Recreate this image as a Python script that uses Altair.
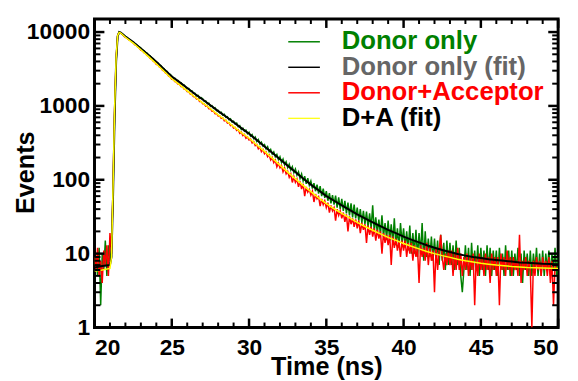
import altair as alt
import pandas as pd

# ---------------- data ----------------
t_start = 20.0
t_step = 0.1

green_counts = [
    7, 9, 5, 12, 2, 10, 6, 15, 5, 13,
    8, 12, 65, 720, 4060, 8850, 10080, 9760, 9420, 9080,
    8650, 8470, 8090, 7900, 7540, 7350, 6990, 6820, 6480, 6300,
    6060, 5730, 5600, 5290, 5170, 4860, 4750, 4480, 4370, 4100,
    3910, 3830, 3590, 3510, 3270, 3190, 2980, 2930, 2720, 2670,
    2540, 2390, 2370, 2230, 2210, 2070, 2060, 1930, 1920, 1790,
    1720, 1720, 1600, 1600, 1480, 1480, 1370, 1390, 1280, 1300,
    1250, 1150, 1170, 1070, 1090, 990, 1010, 930, 945, 860,
    870, 805, 820, 750, 770, 700, 715, 650, 670, 605,
    620, 570, 585, 525, 540, 480, 500, 455, 470, 420,
    440, 390, 410, 360, 380, 330, 350, 305, 322, 285,
    300, 262, 280, 240, 258, 222, 238, 205, 220, 188,
    205, 172, 190, 160, 175, 146, 162, 135, 150, 125,
    140, 115, 128, 104, 120, 96, 112, 88, 105, 84,
    96, 76, 90, 70, 86, 65, 82, 60, 76, 57,
    70, 52, 66, 48, 62, 46, 61, 42, 58, 40,
    55, 38, 52, 35, 49, 33, 48, 31, 46, 30,
    42, 28, 40, 26, 38, 25, 37, 23, 35, 22,
    45, 20, 31, 19, 29, 18, 33, 17, 26, 16,
    28, 15, 25, 14, 30, 13, 22, 12, 26, 14,
    22, 12, 20, 11, 24, 10, 19, 10, 21, 9,
    19, 10, 26, 8, 20, 9, 16, 9, 17, 8,
    16, 8, 15, 7, 18, 8, 14, 6, 15, 7,
    14, 7, 13, 6, 15, 7, 12, 5, 3, 6,
    13, 6, 12, 5, 14, 6, 11, 6, 13, 5,
    12, 6, 11, 5, 13, 6, 12, 5, 11, 6,
    11, 5, 12, 6, 10, 5, 13, 6, 11, 5,
    11, 5, 10, 6, 12, 5, 10, 4, 11, 6,
    10, 5, 11, 5, 10, 6, 12, 5, 10, 5,
    11, 5, 10, 6, 11, 5, 10, 6, 12, 5,
    9,
]

red_counts = [
    9, 6, 12, 5, 8, 4, 11, 7, 13, 5,
    19, 10, 85, 880, 4450, 9050, 9850, 9650, 9320, 8870,
    8440, 8270, 7880, 7700, 7330, 7140, 6770, 6600, 6240, 6050,
    5690, 5560, 5250, 5120, 4810, 4680, 4410, 4300, 4040, 3930,
    3660, 3590, 3360, 3280, 3050, 2970, 2770, 2720, 2530, 2470,
    2290, 2270, 2130, 2110, 1970, 1960, 1830, 1820, 1690, 1680,
    1560, 1555, 1450, 1440, 1340, 1330, 1240, 1245, 1150, 1150,
    1070, 1070, 990, 995, 915, 920, 850, 855, 785, 790,
    730, 735, 680, 690, 630, 640, 585, 595, 540, 550,
    500, 510, 465, 475, 425, 440, 395, 410, 365, 380,
    345, 355, 315, 330, 290, 300, 262, 278, 240, 256,
    225, 238, 205, 218, 185, 200, 170, 184, 150, 168,
    145, 156, 128, 144, 120, 130, 108, 120, 92, 110,
    92, 102, 80, 95, 75, 88, 60, 80, 68, 74,
    62, 70, 50, 64, 55, 59, 44, 55, 46, 52,
    42, 49, 36, 45, 38, 42, 28, 40, 33, 38,
    30, 36, 27, 34, 20, 32, 25, 30, 23, 29,
    22, 28, 19, 26, 21, 25, 14, 24, 18, 23,
    17, 22, 15, 21, 16, 20, 10, 19, 14, 18,
    13, 18, 7, 17, 12, 16, 11, 15, 9, 15,
    11, 15, 9, 14, 10, 14, 8, 13, 9, 12,
    4, 13, 9, 12, 8, 14, 7, 12, 8, 11,
    3, 12, 6, 11, 18, 9, 6, 10, 7, 11,
    7, 11, 5, 10, 6, 12, 6, 10, 5, 9,
    6, 10, 5, 9, 6, 10, 2, 9, 5, 10,
    6, 9, 5, 10, 6, 9, 4, 10, 6, 9,
    5, 9, 2, 10, 6, 9, 5, 11, 6, 9,
    5, 9, 6, 8, 5, 18, 4, 8, 6, 9,
    5, 8, 6, 1, 8, 5, 9, 6, 8, 5,
    9, 6, 8, 5, 9, 4, 8, 2, 7, 6,
    6,
]

fit_times = [20.0, 20.5, 21.0, 21.1, 21.2, 21.3, 21.4, 21.5, 21.6, 21.7,
             22.0, 22.5, 23.0, 23.5, 24.0, 24.5, 25.0, 25.5, 26.0, 26.5,
             27.0, 27.5, 28.0, 28.5, 29.0, 29.5, 30.0, 30.5, 31.0, 31.5,
             32.0, 32.5, 33.0, 33.5, 34.0, 34.5, 35.0, 35.5, 36.0, 36.5,
             37.0, 37.5, 38.0, 38.5, 39.0, 39.5, 40.0, 40.5, 41.0, 41.5,
             42.0, 42.5, 43.0, 43.5, 44.0, 44.5, 45.0, 45.5, 46.0, 46.5,
             47.0, 47.5, 48.0, 48.5, 49.0, 49.5, 50.0]

donor_fit = [6.5, 6.8, 7.0, 9, 60, 700, 4000, 8800, 10000, 9800,
             8700, 7300, 6000, 4900, 3950, 3150, 2500, 2100, 1750, 1450,
             1220, 1020, 850, 720, 600, 500, 420, 345, 283, 232,
             190, 155, 127, 104, 86, 72, 60, 52, 45, 39,
             34, 30, 26.5, 23.5, 21, 19, 17, 15.5, 14.2, 13,
             12, 11.2, 10.5, 9.9, 9.4, 9.0, 8.7, 8.4, 8.2, 8.0,
             7.8, 7.6, 7.5, 7.4, 7.3, 7.25, 7.2]

da_fit = [5.8, 6.0, 6.3, 9, 80, 900, 4500, 9000, 9900, 9700,
          8500, 7100, 5750, 4650, 3720, 2950, 2330, 1940, 1600, 1320,
          1100, 915, 755, 635, 525, 435, 365, 296, 242, 196,
          158, 127, 103, 84, 69, 57, 47.5, 40.5, 35, 30.5,
          26.5, 23.3, 20.7, 18.5, 16.6, 15.1, 13.7, 12.6, 11.6, 10.7,
          10.0, 9.4, 8.9, 8.4, 8.0, 7.7, 7.4, 7.2, 7.0, 6.85,
          6.7, 6.6, 6.5, 6.45, 6.4, 6.35, 6.3]

x_major = [20, 25, 30, 35, 40, 45, 50]
x_minor = [v for v in range(21, 50) if v % 5 != 0]
y_major = [1, 10, 100, 1000, 10000]
y_minor = [m * d for d in (1, 10, 100, 1000) for m in range(2, 10)]

legend_labels = ["Donor only", "Donor only (fit)", "Donor+Acceptor", "D+A (fit)"]
legend_line_colors = ["#008000", "#000000", "#ff0000", "#ffff00"]
legend_text_colors = ["#008000", "#666666", "#ff0000", "#000000"]
legend_line_widths = [1.5, 1.5, 1.5, 1.2]

# ---------------- chart ----------------
FONT = "Liberation Sans"
W, H = 469, 312

times = [round(t_start + t_step * i, 1) for i in range(len(green_counts))]
green_df = pd.DataFrame({"t": times, "v": green_counts})
red_df = pd.DataFrame({"t": times, "v": red_counts})
dfit_df = pd.DataFrame({"t": fit_times, "v": donor_fit})
afit_df = pd.DataFrame({"t": fit_times, "v": da_fit})

xs = alt.Scale(domain=[20, 50], nice=False, zero=False)
ys = alt.Scale(type="log", domain=[1, 15000], nice=False)

x_axis = alt.Axis(values=x_major, ticks=False, tickSize=0, domain=False, grid=False,
                  labelFont=FONT, labelFontSize=23, labelFontWeight="bold",
                  labelColor="black", labelPadding=9,
                  title="Time (ns)", titleFont=FONT, titleFontSize=25.5,
                  titleFontWeight="bold", titleColor="black",
                  titleX=W / 2, titleY=47.5, titleBaseline="alphabetic")
y_axis = alt.Axis(values=y_major, format="d", ticks=False, tickSize=0, domain=False,
                  grid=False, labelFont=FONT, labelFontSize=23,
                  labelFontWeight="bold", labelColor="black", labelPadding=5,
                  title="Events", titleFont=FONT, titleFontSize=25.5,
                  titleFontWeight="bold", titleColor="black", titleAngle=270,
                  titleX=-62, titleY=155, titleAlign="center",
                  titleBaseline="alphabetic")


def series(df, color, sw):
    return alt.Chart(df).mark_line(color=color, strokeWidth=sw, clip=True).encode(
        x=alt.X("t:Q", scale=xs, axis=x_axis),
        y=alt.Y("v:Q", scale=ys, axis=y_axis),
    )


green = series(green_df, "#008000", 1.5)
red = series(red_df, "#ff0000", 1.5)
dfit = series(dfit_df, "#000000", 2)
afit = series(afit_df, "#ffff00", 1.5)


def xticks(vals, y0, y1, sw):
    return alt.Chart(pd.DataFrame({"t": vals})).mark_rule(color="black", strokeWidth=sw).encode(
        x=alt.X("t:Q", scale=xs, axis=x_axis), y=alt.value(y0), y2=alt.value(y1))


def yticks(vals, x0, x1, sw):
    return alt.Chart(pd.DataFrame({"v": vals})).mark_rule(color="black", strokeWidth=sw).encode(
        y=alt.Y("v:Q", scale=ys, axis=y_axis), x=alt.value(x0), x2=alt.value(x1))


ticks = [
    xticks(x_major, H, H - 9, 2.5), xticks(x_minor, H, H - 5, 2),
    xticks(x_major, 0, 9, 2.5), xticks(x_minor, 0, 5, 2),
    yticks(y_major, 0, 10, 2.5), yticks(y_minor, 0, 6, 2),
    yticks(y_major, W, W - 10, 2.5), yticks(y_minor, W, W - 6, 2),
]

one = pd.DataFrame({"k": [0]})
legend_layers = []
for i, lab in enumerate(legend_labels):
    ly = 23 + 25.8 * i
    legend_layers.append(
        alt.Chart(one).mark_rule(color=legend_line_colors[i], strokeWidth=legend_line_widths[i]).encode(
            x=alt.value(196), x2=alt.value(228), y=alt.value(ly)))
    legend_layers.append(
        alt.Chart(one).mark_text(align="left", baseline="alphabetic", font=FONT, fontSize=26,
                                 fontWeight="bold", color=legend_text_colors[i]).encode(
            x=alt.value(250), y=alt.value(ly + 7.5), text=alt.value(lab)))

chart = alt.layer(green, red, dfit, afit, *ticks, *legend_layers).properties(
    width=W, height=H,
    autosize=alt.AutoSizeParams(type="none"),
    padding={"left": 87.5, "top": 9, "right": 12, "bottom": 55},
).configure_view(stroke="black", strokeWidth=3)

chart.save("out.html", embed_options={"renderer": "svg", "actions": False})
